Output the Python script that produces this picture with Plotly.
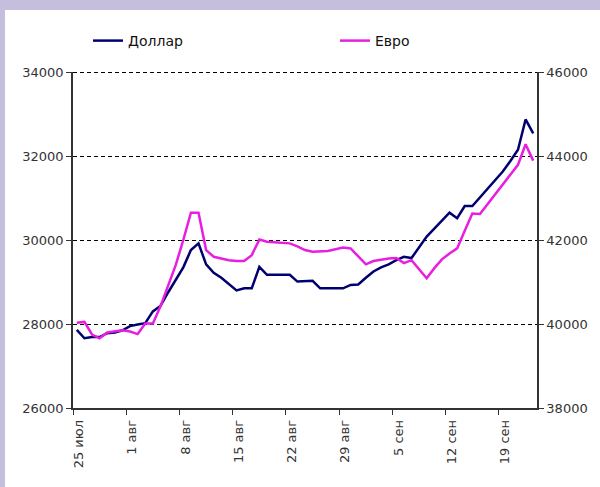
import plotly.graph_objects as go
import pandas as pd

start_date = "2011-07-25"
n_days = 61
dollar = [27860, 27660, 27690, 27690, 27780, 27800, 27850, 27950, 27990, 28020,
          28300, 28430, 28750, 29050, 29350, 29760, 29920, 29420, 29220, 29100,
          28950, 28800, 28850, 28850, 29360, 29170, 29170, 29170, 29170, 29010,
          29020, 29030, 28850, 28850, 28850, 28850, 28930, 28940, 29100, 29250,
          29350, 29420, 29520, 29600, 29570, 29830, 30080, 30270, 30470, 30650,
          30520, 30810, 30810, 31020, 31230, 31430, 31630, 31880, 32150, 32870,
          32540]
euro = [40030, 40050, 39750, 39660, 39800, 39830, 39850, 39820, 39760, 40010,
        40010, 40420, 40900, 41400, 42000, 42650, 42650, 41760, 41600, 41560,
        41520, 41500, 41500, 41640, 42010, 41960, 41950, 41930, 41920, 41850,
        41760, 41720, 41730, 41740, 41780, 41820, 41800, 41600, 41420, 41500,
        41530, 41560, 41570, 41450, 41520, 41300, 41090, 41330, 41540, 41680,
        41800, 42220, 42630, 42620, 42850, 43080, 43310, 43540, 43790, 44280,
        43890]
tick_dates = ["2011-07-25", "2011-08-01", "2011-08-08", "2011-08-15", "2011-08-22",
              "2011-08-29", "2011-09-05", "2011-09-12", "2011-09-19"]
tick_labels = ["25 июл", "1 авг", "8 авг", "15 авг", "22 авг", "29 авг",
               "5 сен", "12 сен", "19 сен"]
left_ticks = [26000, 28000, 30000, 32000, 34000]
right_ticks = [38000, 40000, 42000, 44000, 46000]

# points centred in their day slot
dates = pd.date_range(start_date, periods=n_days, freq="D") + pd.Timedelta(hours=12)

W, H = 600, 487
ml, mr, mt, mb = 73, 63, 72, 79
pw, ph = W - ml - mr, H - mt - mb

fig = go.Figure()
fig.add_trace(go.Scatter(x=dates, y=dollar, name="Доллар", mode="lines",
                         line=dict(color="#000070", width=2.5), legend="legend"))
fig.add_trace(go.Scatter(x=dates, y=euro, name="Евро", mode="lines", yaxis="y2",
                         line=dict(color="#E81EE0", width=2.5), legend="legend2"))

axis_col = "#333333"
tick_font = dict(family="DejaVu Sans", size=13, color="#333333")
leg_font = dict(family="DejaVu Sans", size=14, color="#111111")
leg_y = 1 + 31 / ph
fig.update_layout(
    width=W, height=H,
    margin=dict(l=ml, r=mr, t=mt, b=mb),
    paper_bgcolor="white", plot_bgcolor="white",
    font=tick_font,
    showlegend=True,
    legend=dict(x=(88 - ml) / pw, xanchor="left", y=leg_y, yanchor="middle",
                font=leg_font, itemwidth=30, bgcolor="rgba(0,0,0,0)"),
    legend2=dict(x=(335 - ml) / pw, xanchor="left", y=leg_y, yanchor="middle",
                 font=leg_font, itemwidth=30, bgcolor="rgba(0,0,0,0)"),
    xaxis=dict(type="date", range=[start_date, "2011-09-24"],
               tickvals=tick_dates, ticktext=tick_labels, tickangle=-90,
               ticklabelshift=6,
               showgrid=False, zeroline=False,
               showline=True, linecolor=axis_col, linewidth=1.5,
               ticks="outside", ticklen=5, tickcolor=axis_col, tickfont=tick_font),
    yaxis=dict(range=[26000, 34000], tickvals=left_ticks,
               ticktext=[str(v) for v in left_ticks],
               showgrid=True, gridcolor="black", gridwidth=1, griddash="4px,3px",
               zeroline=False, showline=True, linecolor=axis_col, linewidth=1.5,
               ticks="outside", ticklen=5, tickcolor=axis_col, tickfont=tick_font),
    yaxis2=dict(range=[38000, 46000], tickvals=right_ticks,
                ticktext=[str(v) for v in right_ticks],
                overlaying="y", side="right",
                showgrid=False, zeroline=False, showline=True, linecolor=axis_col,
                linewidth=1.5, ticks="outside", ticklen=5, tickcolor=axis_col,
                tickfont=tick_font),
)

# dashed gridline at the top value of the left axis (half-pixel inset so it stays crisp)
half_px = (left_ticks[-1] - left_ticks[0]) / ph / 2
top_val = left_ticks[-1] - half_px
fig.add_shape(type="line", xref="paper", yref="y", x0=0, x1=1,
              y0=top_val, y1=top_val,
              line=dict(color="black", width=1, dash="4px,3px"), layer="above")

# lavender frame at top and left of the picture
lav = "#C6BEDD"
fig.add_shape(type="rect", xref="paper", yref="paper",
              x0=-ml / pw, x1=1 + mr / pw, y0=1 + (mt - 10) / ph, y1=1 + mt / ph,
              fillcolor=lav, line_width=0, layer="below")
fig.add_shape(type="rect", xref="paper", yref="paper",
              x0=-ml / pw, x1=-(ml - 5) / pw, y0=-mb / ph, y1=1 + mt / ph,
              fillcolor=lav, line_width=0, layer="below")

fig.write_html("out.html", config={"displayModeBar": False},
               post_script="document.body.style.margin='0';")
